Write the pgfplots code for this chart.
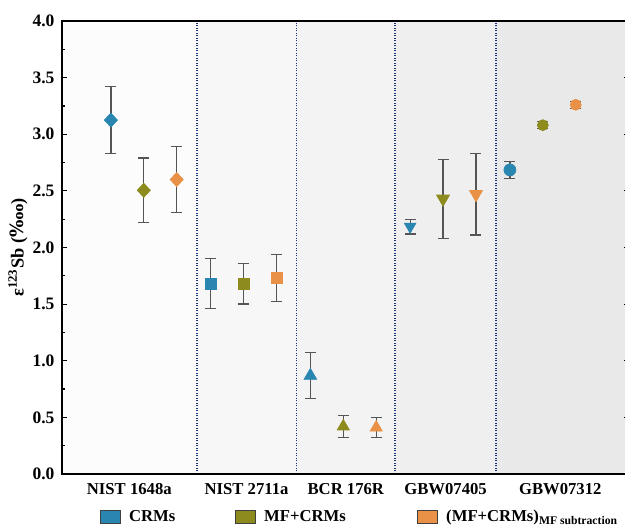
\documentclass[border=0pt]{standalone}
\usepackage{pgfplots}
\pgfplotsset{compat=1.18}
\usepackage{fontspec}
\setmainfont{Liberation Serif}
\newfontfamily\dvs{DejaVu Serif}
\definecolor{cblue}{RGB}{41,134,176}
\definecolor{colive}{RGB}{141,139,30}
\definecolor{corange}{RGB}{233,145,70}
\definecolor{errc}{RGB}{85,85,85}
\definecolor{sepc}{RGB}{30,50,120}
\definecolor{bgA}{RGB}{252,252,252}
\definecolor{bgB}{RGB}{247,247,247}
\definecolor{bgC}{RGB}{243,243,243}
\definecolor{bgD}{RGB}{239,239,239}
\definecolor{bgE}{RGB}{233,233,233}
\newcommand{\errpt}[3]{%
\addplot[forget plot, draw=none, mark=none, error bars/.cd, y dir=both, y explicit,
  error bar style={draw=errc, line width=0.75pt, solid},
  error mark options={draw=errc, line width=0.75pt, mark size=3.3pt, rotate=90}]
  coordinates {(#1,#2) +- (0,#3)};}
\newcommand{\markpt}[6]{%
\addplot[forget plot, only marks, mark=#4, mark size=#5, color=#3, mark options={draw=#3, fill=#3, solid, #6}]
  coordinates {(#1,#2)};}
\begin{document}
\begin{tikzpicture}
\begin{axis}[
  at={(0,0)}, anchor=south west,
  scale only axis, width=340.2pt, height=271.8pt,
  xmin=0.18, xmax=5.864, ymin=0, ymax=4,
  axis line style={line width=1.2pt, black},
  ytick={0,0.5,...,4}, minor y tick num=1,
  tick align=inside, major tick length=3pt, minor tick length=2pt,
  y tick style={line width=0.7pt, black},
  xtick={0.855,2.03,3.025,4.025,5.175},
  xticklabels={NIST 1648a,NIST 2711a,BCR 176R,GBW07405,GBW07312},
  x tick style={draw=none},
  xticklabel style={font=\bfseries\fontsize{10}{12}\selectfont, anchor=north, yshift=-2pt},
  yticklabel style={font=\bfseries\fontsize{10.5}{12}\selectfont, xshift=-1pt},
  /pgf/number format/assume math mode=true,
  yticklabel={\pgfmathprintnumber[fixed, fixed zerofill, precision=1]{\tick}},
  ylabel={\bfseries ε\textsuperscript{123}Sb ({\dvs ‱})},
  every axis y label/.style={at={(axis description cs:0,0.5)}, xshift=-26.4pt, rotate=90, anchor=center, font=\fontsize{11}{13}\selectfont},
  axis on top,
  clip=false,
  legend columns=3,
  legend style={at={(axis description cs:0.067,-0.095)}, anchor=west, draw=none, fill=none, inner sep=0pt,
    font=\bfseries\fontsize{10}{12}\selectfont,
    /tikz/every even column/.append style={column sep=34pt}},
  legend image code/.code={\path[draw=none,fill=none] (0pt,0pt) -- (15pt,0pt); \draw[line width=0.5pt, draw=black!75, #1] (0pt,-4pt) rectangle (12pt,4pt);},
]
\fill[bgA] (axis cs:0.18,0) rectangle (axis cs:1.53,4);
\fill[bgB] (axis cs:1.53,0) rectangle (axis cs:2.53,4);
\fill[bgC] (axis cs:2.53,0) rectangle (axis cs:3.52,4);
\fill[bgD] (axis cs:3.52,0) rectangle (axis cs:4.53,4);
\fill[bgE] (axis cs:4.53,0) rectangle (axis cs:5.864,4);
\draw[sepc, dash pattern=on 0.7pt off 0.8pt, line width=1.1pt] (axis cs:1.53,0) -- (axis cs:1.53,4);
\draw[sepc, dash pattern=on 0.7pt off 0.8pt, line width=1.1pt] (axis cs:2.53,0) -- (axis cs:2.53,4);
\draw[sepc, dash pattern=on 0.7pt off 0.8pt, line width=1.1pt] (axis cs:3.52,0) -- (axis cs:3.52,4);
\draw[sepc, dash pattern=on 0.7pt off 0.8pt, line width=1.1pt] (axis cs:4.53,0) -- (axis cs:4.53,4);

\addlegendimage{fill=cblue}\addlegendentry{CRMs}
\addlegendimage{fill=colive}\addlegendentry{MF+CRMs\rule{7pt}{0pt}}
\addlegendimage{fill=corange}\addlegendentry{(MF+CRMs)\textsubscript{MF subtraction}}

% NIST 1648a
\errpt{0.67}{3.125}{0.295}\markpt{0.67}{3.125}{cblue}{diamond*}{4.2pt}{xscale=1.25}
\errpt{1.00}{2.505}{0.285}\markpt{1.00}{2.505}{colive}{diamond*}{4.2pt}{xscale=1.25}
\errpt{1.33}{2.60}{0.29}\markpt{1.33}{2.60}{corange}{diamond*}{4.2pt}{xscale=1.25}
% NIST 2711a
\errpt{1.67}{1.68}{0.22}\markpt{1.67}{1.68}{cblue}{square*}{3.3pt}{}
\errpt{2.00}{1.68}{0.18}\markpt{2.00}{1.68}{colive}{square*}{3.3pt}{}
\errpt{2.33}{1.73}{0.21}\markpt{2.33}{1.73}{corange}{square*}{3.3pt}{}
% BCR 176R
\errpt{2.67}{0.868}{0.203}\markpt{2.67}{0.868}{cblue}{triangle*}{4.4pt}{}
\errpt{3.00}{0.42}{0.095}\markpt{3.00}{0.42}{colive}{triangle*}{4.2pt}{}
\errpt{3.33}{0.41}{0.09}\markpt{3.33}{0.41}{corange}{triangle*}{4.2pt}{}
% GBW07405
\errpt{3.67}{2.185}{0.065}\markpt{3.67}{2.185}{cblue}{triangle*}{4.0pt}{rotate=180}
\errpt{4.00}{2.43}{0.35}\markpt{4.00}{2.43}{colive}{triangle*}{4.5pt}{rotate=180}
\errpt{4.33}{2.47}{0.36}\markpt{4.33}{2.47}{corange}{triangle*}{4.5pt}{rotate=180}
% GBW07312
\markpt{4.67}{2.685}{cblue}{*}{3.6pt}{}\errpt{4.67}{2.685}{0.075}
\markpt{5.00}{3.08}{colive}{*}{3.3pt}{}\errpt{5.00}{3.08}{0.03}
\markpt{5.33}{3.26}{corange}{*}{3.3pt}{}\errpt{5.33}{3.26}{0.03}
\coordinate (sw) at (axis description cs:0,0);
\coordinate (nw) at (axis description cs:0,1);
\end{axis}
\pgfresetboundingbox
\useasboundingbox ([xshift=-37.2pt,yshift=-31.8pt]sw) rectangle ([xshift=337.8pt,yshift=12.6pt]nw);
\end{tikzpicture}
\end{document}
